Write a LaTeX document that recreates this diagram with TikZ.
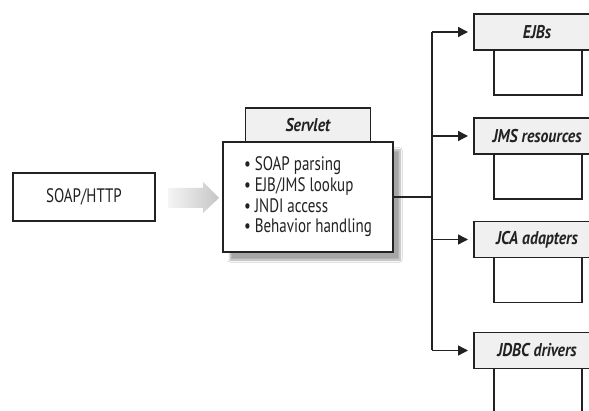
\documentclass[tikz,border=0pt]{standalone}
\usepackage{fontspec}
\setmainfont{PT Sans}[FakeStretch=0.85]
\newfontfamily\bodyfont{PT Sans}[FakeStretch=0.77]
\usetikzlibrary{arrows.meta,shadows.blur}
\definecolor{ink}{HTML}{222222}
\begin{document}
\begin{tikzpicture}[x=1pt,y=-1pt,
  every node/.style={inner sep=0pt,outer sep=0pt,text=ink},
  boxline/.style={draw=ink,line width=1.4pt},
  plainbox/.style={boxline,fill=white},
  headbox/.style={boxline,fill=gray!12,font=\fontsize{18.5}{20}\selectfont\bfseries\itshape},
  conn/.style={draw=ink,line width=1.4pt},
  arr/.style={conn,-{Triangle[length=10pt,width=10pt]},shorten >=6pt}
]
\clip (0,0) rectangle (589,411);
\fill[white] (0,0) rectangle (589,411);

% SOAP/HTTP
\node[plainbox,minimum width=142pt,minimum height=48pt,font=\bodyfont\fontsize{19.5}{21}\selectfont] (soap) at (84,197) {SOAP/HTTP};

% gray arrow
\path[left color=gray!8,right color=gray!45] (168,188) -- (203,188) -- (203,182) -- (219,198) -- (203,213) -- (203,208) -- (168,208) -- cycle;

% Servlet
\node[plainbox,minimum width=170pt,minimum height=110pt,align=left,
  font=\bodyfont\fontsize{19.5}{20.6}\selectfont,
  blur shadow={shadow xshift=7pt,shadow yshift=-8pt,shadow blur steps=8,shadow opacity=35}]
  (servlet) at (308,197) {• SOAP parsing\\• EJB/JMS lookup\\• JNDI access\\• Behavior handling};
\node[headbox,minimum width=125pt,minimum height=34pt,anchor=south] (servhead) at (servlet.north) {Servlet};

% right side boxes
\foreach \nm/\lab/\yc in {ejb/EJBs/32,jms/JMS resources/136,jca/JCA adapters/239.5,jdbc/JDBC drivers/350.5}{
  \node[plainbox,minimum width=88pt,minimum height=45pt,anchor=north] (\nm sub) at (538,\yc+18) {};
  \node[headbox,minimum width=126pt,minimum height=36pt] (\nm) at (537,\yc) {\lab};
}

% connectors
\coordinate (jn) at (432,197);
\draw[conn] (servlet.east) -- (jn);
\draw[conn] (jn |- ejb.west) -- (jn |- jdbc.west);
\foreach \nm in {ejb,jms,jca,jdbc}{
  \draw[arr] (jn |- \nm.west) -- (\nm.west);
}
\end{tikzpicture}
\end{document}
